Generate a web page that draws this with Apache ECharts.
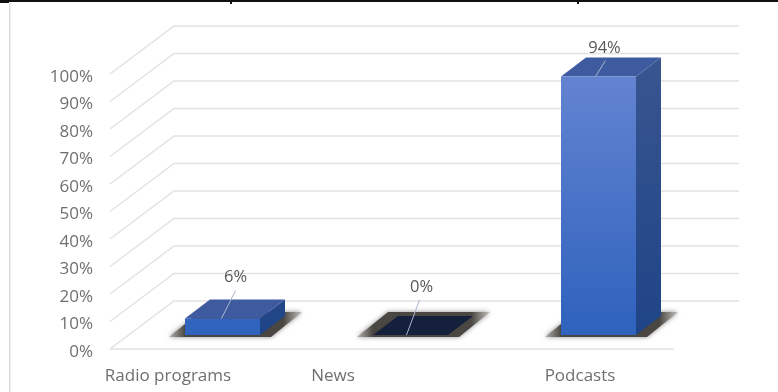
<!DOCTYPE html>
<html>
<head>
<meta charset="utf-8">
<style>html,body{margin:0;padding:0;background:#fff}#c{width:778px;height:392px}</style>
<script src="https://cdn.jsdelivr.net/npm/echarts@6/dist/echarts.min.js"></script>
</head>
<body>
<div id="c"></div>
<script>
var categories = ['Radio programs', 'News', 'Podcasts'];
var shares = [6, 0, 94];
var shareLabels = ['6%', '0%', '94%'];
var yTicks = [0, 10, 20, 30, 40, 50, 60, 70, 80, 90, 100];

// perspective styling (pixels)
var WALL = {dx: 64, dy: -48};
var BAR = {dx: 25, dy: -19, offX: 18.7, offY: -14, widthRatio: 0.4};
var SHADOW = {dx: 31, dy: -25};
var LEADERS = [
  {from: [-1, 0], to: [13, -28], text: [13, -41]},
  {from: [-4, 0], to: [9, -35], text: [11, -48]},
  {from: [-3, 0], to: [7, -16], text: [6, -28]}
];
var LABEL_SHIFT = ['radio', 'news', 'pod'];
var FONT = 'Open Sans';
var TEXT_GREY = '#6f6f6f';

function grad(a, b, y0, y1) {
  return {type: 'linear', global: true, x: 0, y: y0, x2: 0, y2: y1,
    colorStops: [{offset: 0, color: a}, {offset: 1, color: b}]};
}

function renderWall(params, api) {
  var v = api.value(1);
  var y = api.coord([0, v])[1];
  var g = params.coordSys;
  var style = {stroke: '#e2e2e2', lineWidth: 1.4, fill: null};
  var kids = [{type: 'polyline', shape: {points: [[g.x, y], [g.x + WALL.dx, y + WALL.dy], [g.x + g.width + WALL.dx + 1, y + WALL.dy]]}, style: style}];
  if (v === 0) {
    kids.push({type: 'line', shape: {x1: g.x, y1: y, x2: g.x + g.width, y2: y}, style: style});
  }
  return {type: 'group', children: kids};
}

function renderBar(params, api) {
  var i = api.value(0), v = api.value(1);
  var base = api.coord([i, 0]), top = api.coord([i, v]);
  var full = api.coord([i, 100]);
  var w = Math.round(api.size([1, 0])[0] * BAR.widthRatio);
  var l = Math.round(base[0] + BAR.offX - w / 2), r = l + w;
  var yb = base[1] + BAR.offY, yt = top[1] + BAR.offY;
  var y0 = full[1] + BAR.offY;
  var dx = BAR.dx, dy = BAR.dy;
  var lead = LEADERS[i];
  var cx = (l + r) / 2;
  var dark = v === 0;
  var sl = l - 16, sr = r + 42;
  var kids = [];
  kids.push({type: 'polygon', shape: {points: [
    [sl, yb + 2], [sl + SHADOW.dx, yb + 2 + SHADOW.dy],
    [sr, yb + 2 + SHADOW.dy], [r + 11, yb + 2]]},
    style: {
      fill: {type: 'linear', global: true, x: sl, y: 0, x2: sr, y2: 0, colorStops: [
        {offset: 0, color: '#b5b2ac'}, {offset: 0.12, color: '#4a4742'},
        {offset: 0.86, color: '#4a4742'}, {offset: 1, color: '#c4c2be'}]},
      shadowBlur: 5, shadowColor: 'rgba(90,90,90,0.7)'
    }});
  kids.push({type: 'polygon', shape: {points: [[r, yt], [r + dx, yt + dy], [r + dx, yb + dy], [r, yb]]},
    style: {fill: dark ? '#14203c' : grad('#38558f', '#1f4487', y0, yb)}});
  kids.push({type: 'polygon', shape: {points: [[l, yt], [l + dx, yt + dy], [r + dx, yt + dy], [r, yt]]},
    style: {fill: dark ? '#14203c' : '#3f5b9f'}});
  if (!dark) {
    kids.push({type: 'rect', shape: {x: l, y: yt, width: w, height: yb - yt},
      style: {fill: grad('#6685d2', '#2e62bd', y0, yb)}});
  }
  kids.push({type: 'line', shape: {x1: cx + lead.from[0], y1: yt + lead.from[1], x2: cx + lead.to[0], y2: yt + lead.to[1]},
    style: {stroke: '#a9b6cf', lineWidth: 1}});
  kids.push({type: 'text', x: cx + lead.text[0], y: yt + lead.text[1],
    style: {text: shareLabels[i], font: '16.5px "' + FONT + '"', fill: '#595959', align: 'center', verticalAlign: 'middle'}});
  return {type: 'group', children: kids};
}

var chart = echarts.init(document.getElementById('c'), null, {renderer: 'canvas'});
chart.setOption({
  animation: false,
  backgroundColor: '#fff',
  grid: {left: 110, right: 104, top: 74, bottom: 43, containLabel: false},
  xAxis: {
    type: 'category', data: categories,
    axisLine: {show: false}, axisTick: {show: false}, splitLine: {show: false},
    axisLabel: {
      margin: 19, interval: 0, color: TEXT_GREY, fontSize: 17, fontFamily: FONT,
      formatter: function (name, idx) { return '{' + LABEL_SHIFT[idx] + '|' + name + '}'; },
      rich: {
        radio: {fontSize: 17, fontFamily: FONT, color: TEXT_GREY, padding: [0, 72, 0, 0]},
        news: {fontSize: 17, fontFamily: FONT, color: TEXT_GREY, padding: [0, 118, 0, 0]},
        pod: {fontSize: 17, fontFamily: FONT, color: TEXT_GREY}
      }
    }
  },
  yAxis: {
    type: 'value', min: 0, max: 100, interval: 10,
    axisLine: {show: false}, axisTick: {show: false}, splitLine: {show: false},
    axisLabel: {margin: 17, color: TEXT_GREY, fontSize: 17, fontFamily: FONT, verticalAlign: 'top', lineHeight: 6, formatter: '{value}%'}
  },
  graphic: [
    {type: 'rect', silent: true, z: 100, shape: {x: 0, y: 0, width: 778, height: 2}, style: {fill: '#111'}},
    {type: 'rect', silent: true, z: 100, shape: {x: 0, y: 0, width: 9, height: 3}, style: {fill: '#111'}},
    {type: 'rect', silent: true, z: 100, shape: {x: 230, y: 0, width: 2, height: 4}, style: {fill: '#111'}},
    {type: 'rect', silent: true, z: 100, shape: {x: 577, y: 0, width: 2, height: 4}, style: {fill: '#111'}},
    {type: 'rect', silent: true, z: 100, shape: {x: 9, y: 3, width: 1.5, height: 389}, style: {fill: '#dcdcdc'}}
  ],
  series: [
    {type: 'custom', z: 1, silent: true, clip: false, renderItem: renderWall,
      data: yTicks.map(function (t) { return [0, t]; })},
    {type: 'custom', z: 2, silent: true, clip: false, renderItem: renderBar,
      data: shares.map(function (s, i) { return [i, s]; })}
  ]
});
</script>
</body>
</html>
